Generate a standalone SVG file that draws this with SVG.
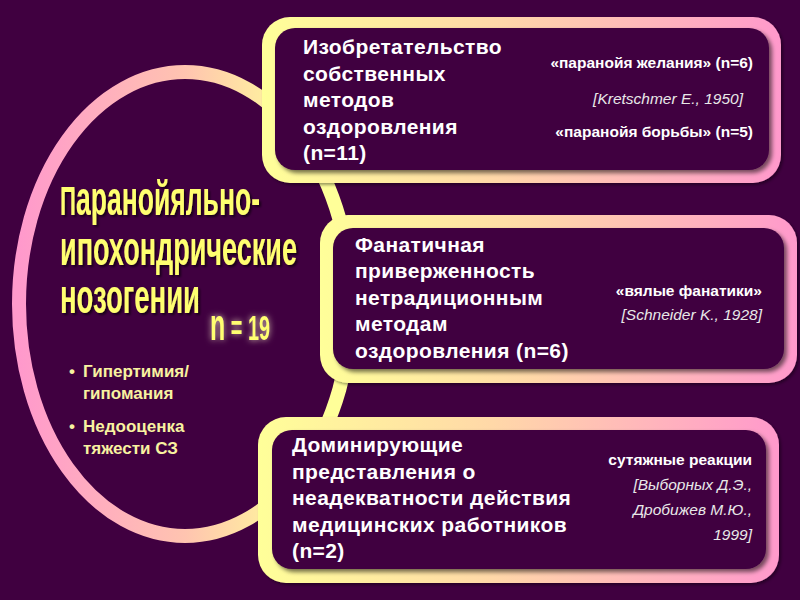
<svg xmlns="http://www.w3.org/2000/svg" width="800" height="600" viewBox="0 0 800 600">
<defs>
<linearGradient id="gBox" x1="0" y1="0" x2="1" y2="0">
<stop offset="0" stop-color="#ffff99"/>
<stop offset="0.45" stop-color="#ffd8a8"/>
<stop offset="1" stop-color="#ff99cc"/>
</linearGradient>
<linearGradient id="gEll" x1="0" y1="0" x2="1" y2="0">
<stop offset="0" stop-color="#ff99cc"/>
<stop offset="0.5" stop-color="#ffc4b0"/>
<stop offset="0.85" stop-color="#ffff99"/>
<stop offset="1" stop-color="#ffff99"/>
</linearGradient>
<filter id="inShadow" x="-5%" y="-5%" width="112%" height="115%">
<feDropShadow dx="3" dy="3" stdDeviation="2" flood-color="#000" flood-opacity="0.55"/>
</filter>
<filter id="outShadow" x="-5%" y="-5%" width="112%" height="115%">
<feDropShadow dx="2" dy="2" stdDeviation="1.5" flood-color="#000" flood-opacity="0.4"/>
</filter>
<filter id="titleShadow" x="-5%" y="-10%" width="115%" height="130%">
<feDropShadow dx="2" dy="2" stdDeviation="1" flood-color="#000" flood-opacity="0.6"/>
</filter>
<filter id="glow" x="-20%" y="-30%" width="140%" height="160%">
<feGaussianBlur in="SourceAlpha" stdDeviation="3" result="b"/>
<feFlood flood-color="#ffffcc" flood-opacity="0.75"/>
<feComposite in2="b" operator="in" result="g"/>
<feMerge><feMergeNode in="g"/><feMergeNode in="SourceGraphic"/></feMerge>
</filter>
<style>
.bg{fill:#400040}
.outer{fill:url(#gBox);filter:url(#outShadow)}
.inner{fill:#400040;filter:url(#inShadow)}
.main{font-family:"Liberation Sans",Arial,sans-serif;font-weight:bold;font-size:21px;letter-spacing:0.4px;fill:#ffffff}
.side{font-family:"Liberation Sans",Arial,sans-serif;font-weight:bold;font-size:15.5px;fill:#ffffff;text-anchor:end}
.ref{font-family:"Liberation Sans",Arial,sans-serif;font-style:italic;font-size:15.5px;fill:#e8e8e8;text-anchor:end}
.title{font-family:"Liberation Sans",Arial,sans-serif;font-weight:bold;fill:#ffff70}
.bul{font-family:"Liberation Sans",Arial,sans-serif;font-weight:bold;font-size:17px;fill:#f8f2a0}
</style>
</defs>
<rect class="bg" x="0" y="0" width="800" height="600"/>

<g id="main-node">
<ellipse cx="185" cy="304" rx="166" ry="232" fill="none" stroke="url(#gEll)" stroke-width="14"/>
<g filter="url(#titleShadow)">
<text class="title" x="60" y="215" font-size="48" textLength="200" lengthAdjust="spacingAndGlyphs"><tspan font-size="40">П</tspan>аранойяльно-</text>
<text class="title" x="60" y="265" font-size="48" textLength="237" lengthAdjust="spacingAndGlyphs">ипохондрические</text>
<text class="title" x="60" y="313" font-size="48" textLength="140" lengthAdjust="spacingAndGlyphs">нозогении</text>
</g>
<text class="title" x="210" y="340" font-size="35" textLength="60" lengthAdjust="spacingAndGlyphs" filter="url(#glow)"><tspan font-size="44">n</tspan> = 19</text>
<g class="bul">
<text x="69" y="377">•</text>
<text x="83" y="377">Гипертимия/</text>
<text x="83" y="399">гипомания</text>
<text x="69" y="432">•</text>
<text x="83" y="432">Недооценка</text>
<text x="83" y="454">тяжести СЗ</text>
</g>
</g>

<g id="connectors"></g>

<g id="box1">
<rect class="outer" x="262" y="17" width="519" height="166" rx="28"/>
<rect class="inner" x="275" y="28" width="494" height="142" rx="20"/>
<g class="main">
<text x="303" y="54">Изобретательство</text>
<text x="303" y="81">собственных</text>
<text x="303" y="107">методов</text>
<text x="303" y="134">оздоровления</text>
<text x="303" y="160">(n=11)</text>
</g>
<text class="side" x="753" y="68">«паранойя желания» (n=6)</text>
<text class="ref" x="743" y="104">[Kretschmer E., 1950]</text>
<text class="side" x="753" y="137">«паранойя борьбы» (n=5)</text>
</g>

<g id="box2">
<rect class="outer" x="320" y="215" width="477" height="168" rx="28"/>
<rect class="inner" x="333" y="228" width="451" height="141" rx="20"/>
<g class="main">
<text x="355" y="252">Фанатичная</text>
<text x="355" y="278">приверженность</text>
<text x="355" y="305">нетрадиционным</text>
<text x="355" y="331">методам</text>
<text x="355" y="358">оздоровления (n=6)</text>
</g>
<text class="side" x="762" y="296">«вялые фанатики»</text>
<text class="ref" x="762" y="320">[Schneider K., 1928]</text>
</g>

<g id="box3">
<rect class="outer" x="258" y="417" width="521" height="166" rx="28"/>
<rect class="inner" x="272" y="430" width="494" height="139" rx="20"/>
<g class="main">
<text x="292" y="452">Доминирующие</text>
<text x="292" y="479">представления о</text>
<text x="292" y="505">неадекватности действия</text>
<text x="292" y="532">медицинских работников</text>
<text x="292" y="558">(n=2)</text>
</g>
<text class="side" x="752" y="465">сутяжные реакции</text>
<text class="ref" x="752" y="490">[Выборных Д.Э.,</text>
<text class="ref" x="752" y="515">Дробижев М.Ю.,</text>
<text class="ref" x="752" y="540">1999]</text>
</g>
</svg>
